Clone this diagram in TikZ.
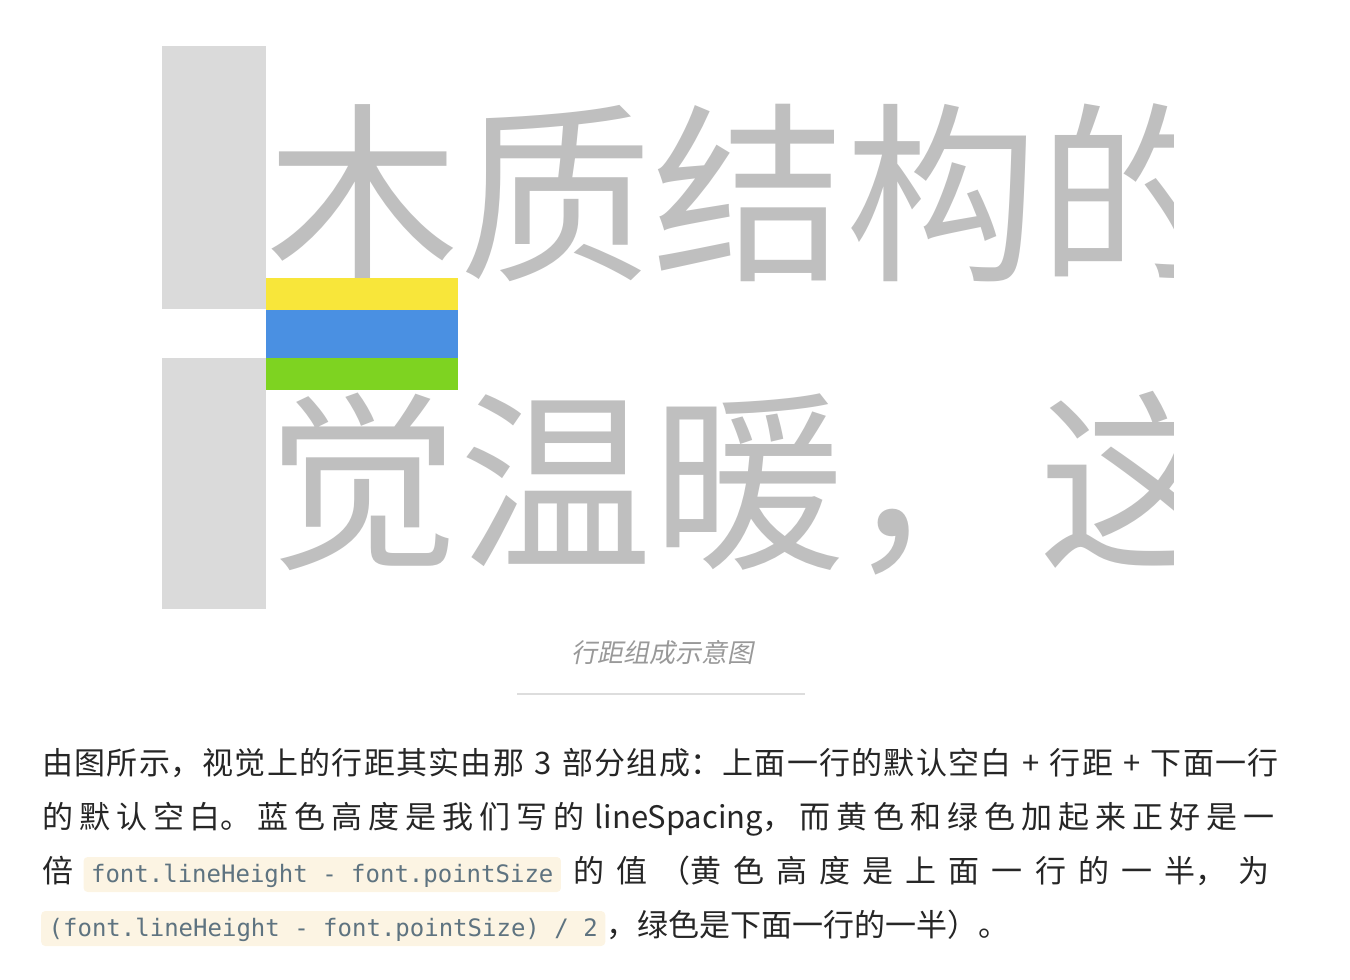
\documentclass[tikz,border=0pt]{standalone}
\usepackage{fontspec}
\usepackage{tikz}
\usetikzlibrary{positioning}
\newfontfamily\cjkfont{Noto Sans CJK SC}
\newfontfamily\cjkslant[FakeSlant=0.2]{Noto Sans CJK SC}
\newfontfamily\codefont{DejaVu Sans Mono}
\definecolor{LsGrey}{HTML}{DADADA}
\definecolor{LsGlyph}{HTML}{BFBFBF}
\definecolor{LsYellow}{HTML}{F8E63A}
\definecolor{LsBlue}{HTML}{4A90E2}
\definecolor{LsGreen}{HTML}{7ED321}
\definecolor{LsText}{HTML}{262626}
\definecolor{LsCaption}{HTML}{999999}
\definecolor{LsRule}{HTML}{DDDDDD}
\definecolor{LsCode}{HTML}{5E7380}
\definecolor{LsCodeBg}{HTML}{FCF4E3}
\newcommand{\spreadline}{\XeTeXlinebreaklocale "zh"\XeTeXlinebreakskip=0pt plus 1fil\relax\parfillskip=0pt\relax}

\begin{document}
\begin{tikzpicture}[x=1pt,y=-1pt,
    bigglyph/.style={anchor=base west,inner sep=0pt,text=LsGlyph,
      font=\cjkfont\fontsize{193}{200}\selectfont},
    bodyline/.style={anchor=base west,inner sep=0pt,text=LsText,
      font=\cjkfont\fontsize{31}{36}\selectfont},
    codechip/.style={fill=LsCodeBg,rounded corners=4pt,text=LsCode,
      font=\codefont\fontsize{24}{28}\selectfont,inner xsep=7.5pt,inner ysep=5pt,
      text height=20pt,text depth=5pt}]
    \useasboundingbox (0,0) rectangle (1350,980);
    \fill[LsGrey] (162,46) rectangle (266,309);
    \fill[LsGrey] (162,358) rectangle (266,609);
    \begin{scope}
      \clip (266,46) rectangle (1173,609);
      \node[bigglyph] (row1) at (266,266) {木质结构的};
      \node[bigglyph] (row2) at (266,554) {觉温暖，这};
    \end{scope}
    \fill[LsYellow] (266,278) rectangle (458,310);
    \fill[LsBlue] (266,310) rectangle (458,358);
    \fill[LsGreen] (266,358) rectangle (458,390);
    \node[text=LsCaption,inner sep=0pt,font=\cjkslant\fontsize{26}{30}\selectfont]
      (cap) at (662,653) {行距组成示意图};
    \draw[LsRule,line width=2pt] (517,694) -- (805,694);
    \node[bodyline,text width=1238pt] (l1) at (42,774)
      {\spreadline 由图所示，视觉上的行距其实由那 3 部分组成：上面一行的默认空白 + 行距 + 下面一行};
    \node[bodyline,text width=1238pt] (l2) at (42,828)
      {\spreadline 的默认空白。蓝色高度是我们写的 lineSpacing，而黄色和绿色加起来正好是一};
    \node[bodyline] (bei) at (42,882) {倍};
    \node[codechip,right=10pt of bei.base east,anchor=base west] (code1)
      {font.lineHeight - font.pointSize};
    \node[bodyline,text width=708pt,right=12pt of code1.base east,anchor=base west] (l3)
      {\spreadline 的值（黄色高度是上面一行的一半，为};
    \node[codechip,anchor=base west] (code2) at (41,936)
      {(font.lineHeight - font.pointSize) / 2};
    \node[bodyline,right=1pt of code2.base east,anchor=base west] (l4)
      {，绿色是下面一行的一半）。};
  \end{tikzpicture}
\end{document}
